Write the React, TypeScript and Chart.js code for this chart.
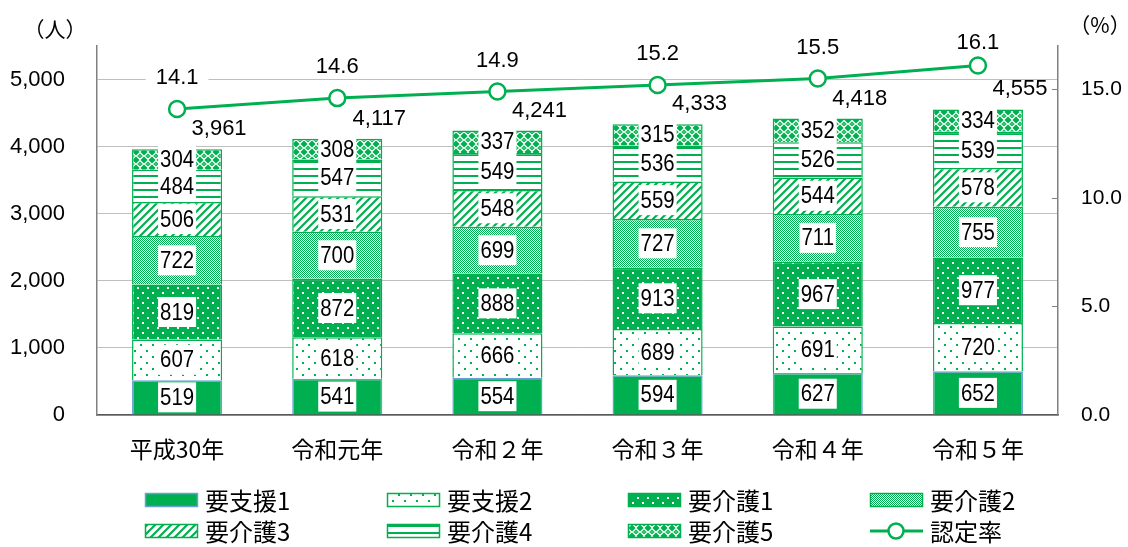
import React, { useEffect, useRef } from 'react';
import { Chart, registerables } from 'chart.js';

Chart.register(...registerables);

const categories = ['平成30年', '令和元年', '令和２年', '令和３年', '令和４年', '令和５年'];
const seriesNames = ['要支援1', '要支援2', '要介護1', '要介護2', '要介護3', '要介護4', '要介護5'];
const shien1 = [519, 541, 554, 594, 627, 652];
const shien2 = [607, 618, 666, 689, 691, 720];
const kaigo1 = [819, 872, 888, 913, 967, 977];
const kaigo2 = [722, 700, 699, 727, 711, 755];
const kaigo3 = [506, 531, 548, 559, 544, 578];
const kaigo4 = [484, 547, 549, 536, 526, 539];
const kaigo5 = [304, 308, 337, 315, 352, 334];
const rateName = '認定率';
const rate = [14.1, 14.6, 14.9, 15.2, 15.5, 16.1];
const leftTicks = [0, 1000, 2000, 3000, 4000, 5000];
const rightTicks = [0, 5, 10, 15];
const leftMax = 5500;
const rightMax = 17;
const leftUnit = '（人）';
const rightUnit = '（%）';

const G = '#00B050';
const NUM_FONT = '"Liberation Sans", Arial, sans-serif';
const JP_FONT = '"Noto Sans CJK JP", sans-serif';

function makePattern(kind: string): CanvasPattern | string {
  if (kind === 'solid') return G;
  const c = document.createElement('canvas');
  let w = 8, h = 8;
  if (kind === 'sparseDots') { w = 12; h = 12; }
  if (kind === 'whiteDots') { w = 10; h = 10; }
  if (kind === 'fineCheck') { w = 2; h = 2; }
  if (kind === 'diag') { w = 8; h = 8; }
  if (kind === 'hlines') { w = 8; h = 7; }
  if (kind === 'lattice') { w = 8; h = 8; }
  c.width = w; c.height = h;
  const ctx = c.getContext('2d')!;
  if (kind === 'sparseDots') {
    ctx.fillStyle = '#fff'; ctx.fillRect(0, 0, w, h);
    ctx.fillStyle = G; ctx.fillRect(2, 2, 2, 2); ctx.fillRect(8, 8, 2, 2);
  } else if (kind === 'whiteDots') {
    ctx.fillStyle = G; ctx.fillRect(0, 0, w, h);
    ctx.fillStyle = '#fff'; ctx.fillRect(2, 2, 2, 2); ctx.fillRect(7, 7, 2, 2);
  } else if (kind === 'fineCheck') {
    ctx.fillStyle = '#fff'; ctx.fillRect(0, 0, w, h);
    ctx.fillStyle = G; ctx.fillRect(0, 0, 1, 1); ctx.fillRect(1, 1, 1, 1);
  } else if (kind === 'diag') {
    ctx.fillStyle = '#fff'; ctx.fillRect(0, 0, w, h);
    ctx.strokeStyle = G; ctx.lineWidth = 2.2;
    ctx.beginPath();
    ctx.moveTo(-4, 4); ctx.lineTo(4, -4);
    ctx.moveTo(0, 8); ctx.lineTo(8, 0);
    ctx.moveTo(4, 12); ctx.lineTo(12, 4);
    ctx.stroke();
  } else if (kind === 'hlines') {
    ctx.fillStyle = '#fff'; ctx.fillRect(0, 0, w, h);
    ctx.fillStyle = G; ctx.fillRect(0, 0, w, 2);
  } else if (kind === 'lattice') {
    ctx.fillStyle = G; ctx.fillRect(0, 0, w, h);
    ctx.strokeStyle = '#fff'; ctx.lineWidth = 1.3;
    ctx.beginPath();
    ctx.moveTo(4, 0.5); ctx.lineTo(7.5, 4); ctx.lineTo(4, 7.5); ctx.lineTo(0.5, 4); ctx.closePath();
    ctx.stroke();
    ctx.fillStyle = '#fff'; ctx.fillRect(3.5, 3.5, 1, 1);
  }
  return ctx.createPattern(c, 'repeat')!;
}

const patternKinds = ['solid', 'sparseDots', 'whiteDots', 'fineCheck', 'diag', 'hlines', 'lattice'];
const borderColors = ['#6A9FD8', G, G, G, G, G, G];

function fmt(n: number) {
  return n.toLocaleString('en-US');
}

export default function App() {
  const ref = useRef<HTMLCanvasElement | null>(null);

  useEffect(() => {
    const canvas = ref.current!;
    const fills = patternKinds.map(makePattern);
    const seriesValues = [shien1, shien2, kaigo1, kaigo2, kaigo3, kaigo4, kaigo5];
    const totals = categories.map((_, i) => seriesValues.reduce((s, arr) => s + arr[i], 0));

    const labelPlugin = {
      id: 'customLabels',
      afterDatasetsDraw(chart: any) {
        const ctx = chart.ctx as CanvasRenderingContext2D;
        ctx.save();
        const SX = 0.85;
        for (let d = 0; d < seriesValues.length; d++) {
          const meta = chart.getDatasetMeta(d);
          meta.data.forEach((el: any, i: number) => {
            const t = String(seriesValues[d][i]);
            const cx = el.x;
            const cy = (el.y + el.base) / 2;
            ctx.font = `24px ${NUM_FONT}`;
            const tw = ctx.measureText(t).width * SX;
            ctx.fillStyle = '#fff';
            ctx.fillRect(cx - tw / 2 - 2, cy - 15, tw + 4, 30);
            ctx.save();
            ctx.translate(cx, cy + 1);
            ctx.scale(SX, 1);
            ctx.fillStyle = '#000';
            ctx.textAlign = 'center';
            ctx.textBaseline = 'middle';
            ctx.fillText(t, 0, 0);
            ctx.restore();
          });
        }
        const topMeta = chart.getDatasetMeta(seriesValues.length - 1);
        topMeta.data.forEach((el: any, i: number) => {
          ctx.font = `22px ${NUM_FONT}`;
          ctx.fillStyle = '#000';
          ctx.textAlign = 'center';
          ctx.textBaseline = 'middle';
          ctx.fillText(fmt(totals[i]), el.x + 42, el.y - 20);
        });
        const lineMeta = chart.getDatasetMeta(seriesValues.length);
        lineMeta.data.forEach((pt: any, i: number) => {
          const t = rate[i].toFixed(1);
          ctx.font = `22px ${NUM_FONT}`;
          const tw = ctx.measureText(t).width;
          const y = Math.max(pt.y - 32, 42);
          ctx.fillStyle = '#fff';
          ctx.fillRect(pt.x - tw / 2 - 10, y - 12, tw + 20, 24);
          ctx.fillStyle = '#000';
          ctx.textAlign = 'center';
          ctx.textBaseline = 'middle';
          ctx.fillText(t, pt.x, y + 1);
        });
        ctx.restore();
      },
      afterDraw(chart: any) {
        const ctx = chart.ctx as CanvasRenderingContext2D;
        const area = chart.chartArea;
        const y1 = chart.scales.y1;
        ctx.save();
        ctx.strokeStyle = '#808080';
        ctx.lineWidth = 1;
        rightTicks.forEach((v) => {
          if (v === 0) return;
          const y = Math.round(y1.getPixelForValue(v)) + 0.5;
          ctx.beginPath();
          ctx.moveTo(area.right - 6, y);
          ctx.lineTo(area.right, y);
          ctx.stroke();
        });
        ctx.fillStyle = '#000';
        ctx.textAlign = 'center';
        ctx.textBaseline = 'middle';
        ctx.font = `21px ${JP_FONT}`;
        ctx.fillText(leftUnit, 55, 29);
        ctx.fillText(rightUnit, 1100, 25);
        const cols = [145, 387, 628, 870];
        const rows = [500, 531];
        const items = [0, 1, 2, 3, 4, 5, 6, 7];
        items.forEach((k, idx) => {
          const sx = cols[idx % 4];
          const cy = rows[Math.floor(idx / 4)];
          if (k < 7) {
            ctx.fillStyle = fills[k] as any;
            ctx.fillRect(sx, cy - 7, 53, 14);
            ctx.strokeStyle = borderColors[k];
            ctx.lineWidth = 1.5;
            ctx.strokeRect(sx + 0.5, cy - 6.5, 52, 13);
          } else {
            ctx.strokeStyle = G;
            ctx.lineWidth = 3;
            ctx.beginPath();
            ctx.moveTo(sx, cy);
            ctx.lineTo(sx + 53, cy);
            ctx.stroke();
            ctx.beginPath();
            ctx.arc(sx + 26, cy, 7.5, 0, Math.PI * 2);
            ctx.fillStyle = '#fff';
            ctx.fill();
            ctx.lineWidth = 2.5;
            ctx.stroke();
          }
          ctx.fillStyle = '#000';
          ctx.textAlign = 'left';
          ctx.textBaseline = 'middle';
          ctx.font = `24px ${JP_FONT}`;
          ctx.fillText(k < 7 ? seriesNames[k] : rateName, sx + 60, cy + 1);
        });
        ctx.restore();
      },
    };

    const barDatasets = seriesValues.map((vals, k) => ({
      type: 'bar' as const,
      label: seriesNames[k],
      data: vals,
      backgroundColor: fills[k] as any,
      borderColor: borderColors[k],
      borderWidth: 1.5,
      stack: 's',
      yAxisID: 'y',
      order: 2,
      barPercentage: 0.5625,
      categoryPercentage: 1,
    }));

    const chart = new Chart(canvas, {
      type: 'bar',
      data: {
        labels: categories,
        datasets: [
          ...barDatasets,
          {
            type: 'line' as const,
            label: rateName,
            data: rate,
            yAxisID: 'y1',
            borderColor: G,
            borderWidth: 3,
            pointRadius: 8,
            pointBackgroundColor: '#fff',
            pointBorderColor: G,
            pointBorderWidth: 2.5,
            order: 0,
          } as any,
        ],
      },
      options: {
        responsive: false,
        animation: false,
        layout: { padding: { top: 46, left: 0, right: 0, bottom: 0 } },
        plugins: {
          legend: { display: false },
          tooltip: { enabled: false },
        },
        scales: {
          x: {
            stacked: true,
            grid: { display: false, drawTicks: false },
            border: { color: '#595959', width: 1.5 },
            ticks: {
              color: '#000',
              font: { family: JP_FONT, size: 23 },
              padding: 20,
            },
            afterFit: (s: any) => { s.height = 132; },
          },
          y: {
            stacked: true,
            min: 0,
            max: leftMax,
            afterBuildTicks: (s: any) => { s.ticks = leftTicks.map((v) => ({ value: v })); },
            ticks: {
              color: '#000',
              font: { family: NUM_FONT, size: 22 },
              padding: 32,
              callback: (v: any) => fmt(Number(v)),
            },
            grid: { color: '#BFBFBF', drawTicks: false, lineWidth: 1 },
            border: { color: '#808080', width: 1.5 },
            afterFit: (s: any) => { s.width = 97; },
          },
          y1: {
            position: 'right',
            min: 0,
            max: rightMax,
            afterBuildTicks: (s: any) => { s.ticks = rightTicks.map((v) => ({ value: v })); },
            ticks: {
              color: '#000',
              font: { family: NUM_FONT, size: 21 },
              padding: 23,
              callback: (v: any) => Number(v).toFixed(1),
            },
            grid: { drawOnChartArea: false, drawTicks: false },
            border: { color: '#808080', width: 1.5 },
            afterFit: (s: any) => { s.width = 70; },
          },
        },
      },
      plugins: [labelPlugin],
    });
    return () => chart.destroy();
  }, []);

  return (
    <div style={{ position: 'absolute', left: 0, top: 0, width: 1128, height: 547, background: '#fff' }}>
      <canvas ref={ref} width={1128} height={547} style={{ display: 'block' }} />
    </div>
  );
}
